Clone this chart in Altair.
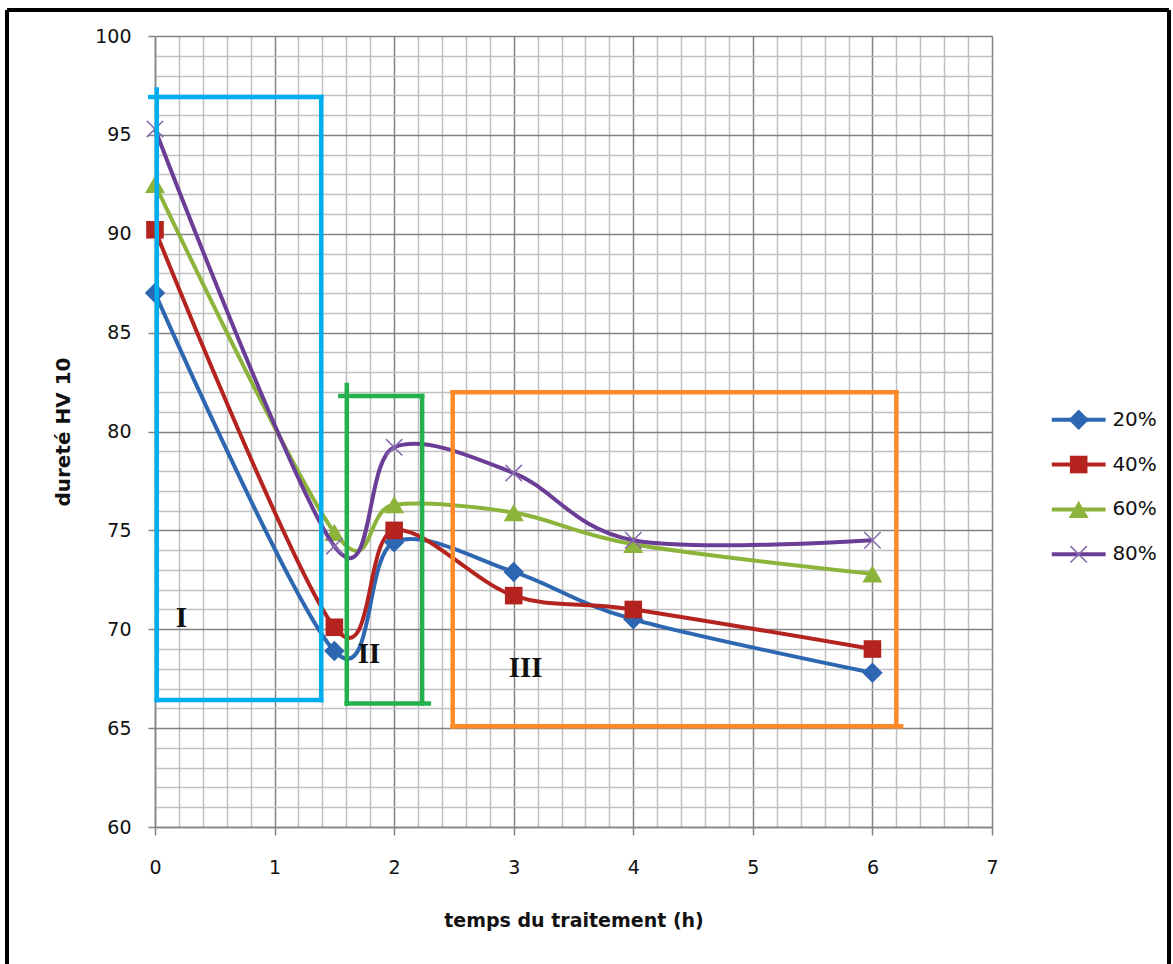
import altair as alt
import pandas as pd

# ---- data ----
times = [0, 1.5, 2, 3, 4, 6]
series = ["20%", "40%", "60%", "80%"]
hv_20 = [87.0, 68.9, 74.4, 72.9, 70.5, 67.8]
hv_40 = [90.2, 70.1, 75.0, 71.7, 71.0, 69.0]
hv_60 = [92.5, 74.9, 76.3, 75.9, 74.3, 72.8]
hv_80 = [95.3, 74.2, 79.2, 77.9, 74.5, 74.5]

x_ticks = [round(i * 0.2, 1) for i in range(36)]
y_ticks = list(range(60, 101))

# region boxes (data coordinates): left, right, bottom, top
region_names = ["I", "II", "III"]
box_left = [0.015, 1.604, 2.49]
box_right = [1.39, 2.234, 6.2]
box_bottom = [66.42, 66.25, 65.1]
box_top = [96.92, 81.8, 81.98]
# small hand-drawn overshoots of the edges
left_edge_top = [97.3, 82.35, 81.98]
top_edge_left = [-0.04, 1.55, 2.49]
bottom_edge_right = [1.39, 2.29, 6.24]
box_colors = ["#00AEEF", "#22B14C", "#FF8A2A"]
label_x = [0.22, 1.79, 3.1]
label_y = [70.55, 68.75, 68.05]

colors = ["#2E67B1", "#B5231F", "#8CB33A", "#6A3D96"]
marker_colors = ["#2E67B1", "#B5231F", "#8CB33A", "#8A6BB0"]
shapes = ["diamond", "square", "triangle-up", "M-1,-1L1,1M-1,1L1,-1"]
sizes = [420, 310, 400, 270]

rows = []
for s, vals in zip(series, [hv_20, hv_40, hv_60, hv_80]):
    for t, v in zip(times, vals):
        rows.append({"series": s, "t": t, "hv": v})
df = pd.DataFrame(rows)

xscale = alt.Scale(domain=[0, 7], nice=False, zero=False)
yscale = alt.Scale(domain=[60, 100], nice=False, zero=False)

is_int_x = "abs(datum.value - round(datum.value)) < 0.001"
is_major_y = "datum.value % 5 === 0"

xaxis = alt.Axis(
    values=x_ticks, title="temps du traitement (h)",
    labelExpr=f"{is_int_x} ? format(datum.value, 'd') : ''",
    gridColor={"condition": {"test": is_int_x, "value": "#828282"}, "value": "#C0C0C0"},
    gridWidth=1.5,
    tickColor="#828282", tickSize=8, tickWidth=1.5,
    tickOpacity={"condition": {"test": is_int_x, "value": 1}, "value": 0},
    domainColor="#828282", domainWidth=1.5,
    labelFont="DejaVu Sans", labelFontSize=19, labelColor="#111111",
    labelPadding=23, labelOverlap=False, labelFlush=False, labelBound=False,
    titleFont="DejaVu Sans", titleFontSize=19, titleFontWeight="bold", titleColor="#111111",
    titlePadding=34,
)
yaxis = alt.Axis(
    values=y_ticks, title="dureté HV 10",
    labelExpr=f"{is_major_y} ? datum.label : ''",
    gridColor={"condition": {"test": is_major_y, "value": "#828282"}, "value": "#C0C0C0"},
    gridWidth=1.5,
    tickColor="#828282", tickSize=7, tickWidth=1.5,
    tickOpacity={"condition": {"test": is_major_y, "value": 1}, "value": 0},
    domainColor="#828282", domainWidth=1.5,
    labelFont="DejaVu Sans", labelFontSize=19, labelColor="#111111",
    labelPadding=17, labelOverlap=False, labelFlush=False, labelBound=False,
    titleFont="DejaVu Sans", titleFontSize=20, titleFontWeight="bold", titleColor="#111111",
    titlePadding=21,
)

X = lambda f="t": alt.X(f"{f}:Q", scale=xscale, axis=xaxis)
Y = lambda f="hv": alt.Y(f"{f}:Q", scale=yscale, axis=yaxis)

base = alt.Chart(df)
layers = []
# grid/axes carrier
layers.append(base.mark_point(opacity=0).encode(x=X(), y=Y()))

for i, s in enumerate(series):
    sub = base.transform_filter(alt.datum.series == s)
    layers.append(sub.mark_line(interpolate="cardinal", color=colors[i], strokeWidth=4)
                  .encode(x=X(), y=Y()))
    if i < 3:
        pt = sub.mark_point(shape=shapes[i], filled=True, size=sizes[i], color=marker_colors[i], opacity=1)
    else:
        pt = sub.mark_point(shape=shapes[i], filled=False, size=sizes[i], color=marker_colors[i],
                            strokeWidth=1.6, opacity=1)
    layers.append(pt.encode(x=X(), y=Y()))

# region boxes
edge_rows = []
for l, r, b, tp, lt, tl, br, c in zip(box_left, box_right, box_bottom, box_top,
                                      left_edge_top, top_edge_left, bottom_edge_right, box_colors):
    edge_rows += [
        {"t": l, "t2": l, "hv": b, "hv2": lt, "c": c},
        {"t": r, "t2": r, "hv": b, "hv2": tp, "c": c},
        {"t": tl, "t2": r, "hv": tp, "hv2": tp, "c": c},
        {"t": l, "t2": br, "hv": b, "hv2": b, "c": c},
    ]
edges = pd.DataFrame(edge_rows)
layers.append(alt.Chart(edges).mark_rule(strokeWidth=4.5, strokeCap="square").encode(
    x=X(), x2="t2:Q", y=Y(), y2="hv2:Q", color=alt.Color("c:N", scale=None)))

labels = pd.DataFrame({"t": label_x, "hv": label_y, "txt": region_names})
layers.append(alt.Chart(labels).mark_text(font="Liberation Serif", fontWeight="bold", fontSize=29,
                                          color="#111111", align="center", baseline="middle").encode(
    x=X(), y=Y(), text="txt:N"))

# legend (drawn in data space to the right of the plot)
leg = pd.DataFrame({"series": series,
                    "t": [7.5] * 4, "t2": [7.95] * 4, "tm": [7.725] * 4, "tt": [7.99] * 4,
                    "hv": [80.6 - 2.27 * i for i in range(4)]})
for i, s in enumerate(series):
    ls = alt.Chart(leg).transform_filter(alt.datum.series == s)
    layers.append(ls.mark_rule(color=colors[i], strokeWidth=4).encode(x=X(), x2="t2:Q", y=Y()))
    if i < 3:
        lp = ls.mark_point(shape=shapes[i], filled=True, size=sizes[i], color=marker_colors[i], opacity=1)
    else:
        lp = ls.mark_point(shape=shapes[i], filled=False, size=sizes[i], color=marker_colors[i],
                           strokeWidth=1.6, opacity=1)
    layers.append(lp.encode(x=X("tm"), y=Y()))
layers.append(alt.Chart(leg).mark_text(font="DejaVu Sans", fontSize=20, color="#111111",
                                       align="left", baseline="middle", dx=2).encode(
    x=X("tt"), y=Y(), text="series:N"))

# outer frame
frame = [
    alt.Chart(df).mark_rule(color="black", strokeWidth=4).encode(
        x=alt.value(-148), x2=alt.value(1014), y=alt.value(-26)),
    alt.Chart(df).mark_rule(color="black", strokeWidth=4).encode(
        x=alt.value(-148), y=alt.value(-26), y2=alt.value(960)),
    alt.Chart(df).mark_rule(color="black", strokeWidth=4).encode(
        x=alt.value(1014), y=alt.value(-26), y2=alt.value(960)),
]

chart = alt.layer(*layers, *frame).properties(
    width=837, height=791,
    padding={"left": 155, "top": 36, "right": 181, "bottom": 137},
    autosize=alt.AutoSizeParams(type="none"),
    background="white",
).configure_view(strokeWidth=0)

chart.save("out.html", embed_options={"renderer": "svg", "actions": False})
